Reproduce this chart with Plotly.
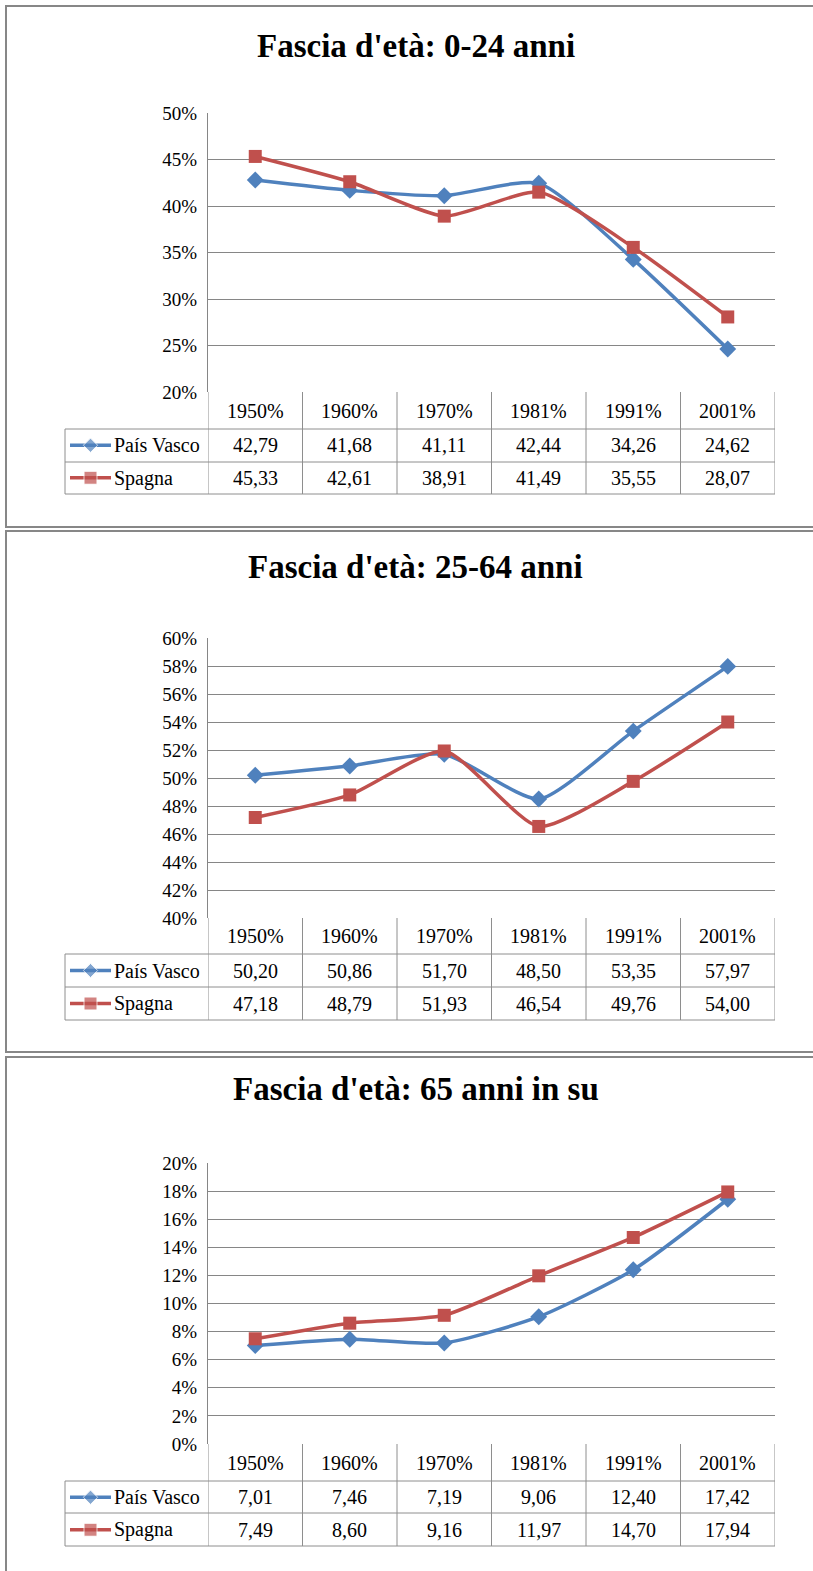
import plotly.graph_objects as go

# ---------------- data ----------------
years = ["1950%", "1960%", "1970%", "1981%", "1991%", "2001%"]
series_names = ["País Vasco", "Spagna"]
titles = ["Fascia d'età: 0-24 anni", "Fascia d'età: 25-64 anni", "Fascia d'età: 65 anni in su"]

pv_0_24 = [42.79, 41.68, 41.11, 42.44, 34.26, 24.62]
sp_0_24 = [45.33, 42.61, 38.91, 41.49, 35.55, 28.07]
pv_25_64 = [50.20, 50.86, 51.70, 48.50, 53.35, 57.97]
sp_25_64 = [47.18, 48.79, 51.93, 46.54, 49.76, 54.00]
pv_65 = [7.01, 7.46, 7.19, 9.06, 12.40, 17.42]
sp_65 = [7.49, 8.60, 9.16, 11.97, 14.70, 17.94]

y_ranges = [(20, 50, 5), (40, 60, 2), (0, 20, 2)]

# ---------------- layout helpers ----------------
W, H = 813, 1571
def fx(p):
    return p / W
def fy(p):
    return 1 - p / H

BLUE = "#4F81BD"
RED = "#C0504D"
GRID = "#868686"
TLINE = "#8E8E8E"
FONT = "Liberation Serif"

panels = [
    dict(box=(6, 527), plot=(113, 392), rows=(429, 462, 494), title=46),
    dict(box=(531, 1052), plot=(638, 918), rows=(954, 987, 1020), title=567),
    dict(box=(1057, 1580), plot=(1163, 1444), rows=(1481, 1513, 1546), title=1089),
]
PLOT_X0, PLOT_X1 = 208, 775
TABLE_X0 = 65

data_sets = [(pv_0_24, sp_0_24), (pv_25_64, sp_25_64), (pv_65, sp_65)]

fig = go.Figure()
shapes = []
annotations = []
layout_axes = {}

for i, (pan, (pv, sp), (ymin, ymax, dt), title) in enumerate(zip(panels, data_sets, y_ranges, titles)):
    n = i + 1
    xa = "x" if n == 1 else f"x{n}"
    ya = "y" if n == 1 else f"y{n}"
    xk = "xaxis" if n == 1 else f"xaxis{n}"
    yk = "yaxis" if n == 1 else f"yaxis{n}"
    top, bot = pan["plot"]
    r1, r2, r3 = pan["rows"]

    layout_axes[xk] = dict(domain=[fx(PLOT_X0), fx(PLOT_X1)], range=[-0.5, 5.5],
                           showgrid=False, zeroline=False, showticklabels=False,
                           showline=False, anchor=ya, fixedrange=True, automargin=False)
    layout_axes[yk] = dict(domain=[fy(bot), fy(top)], range=[ymin, ymax], dtick=dt,
                           tick0=ymin, ticksuffix="%", showgrid=True, gridcolor=GRID,
                           gridwidth=1, zeroline=False, showline=True, linecolor=GRID,
                           linewidth=1, ticks="", ticklabelstandoff=6,
                           tickfont=dict(family=FONT, size=19, color="black"),
                           anchor=xa, fixedrange=True, automargin=False)

    xs = list(range(len(years)))
    fig.add_trace(go.Scatter(x=xs, y=pv, xaxis=xa, yaxis=ya, mode="lines+markers",
                             line=dict(color=BLUE, width=3.5, shape="spline", smoothing=0.6),
                             marker=dict(symbol="diamond", size=13, color=BLUE),
                             showlegend=False, cliponaxis=False))
    fig.add_trace(go.Scatter(x=xs, y=sp, xaxis=xa, yaxis=ya, mode="lines+markers",
                             line=dict(color=RED, width=3.5, shape="spline", smoothing=0.6),
                             marker=dict(symbol="square", size=13, color=RED),
                             showlegend=False, cliponaxis=False))

    kx = f"x{n+3}"
    ky = f"y{n+3}"
    layout_axes[f"xaxis{n+3}"] = dict(domain=[fx(70), fx(111)], range=[0, 1], visible=False,
                                      anchor=ky, fixedrange=True, automargin=False)
    layout_axes[f"yaxis{n+3}"] = dict(domain=[fy(r3), fy(r1)], range=[0, 2], visible=False,
                                      anchor=kx, fixedrange=True, automargin=False)
    fig.add_trace(go.Scatter(x=[0, 0.5, 1], y=[1.5, 1.5, 1.5], xaxis=kx, yaxis=ky,
                             mode="lines+markers", line=dict(color=BLUE, width=3.5),
                             marker=dict(symbol="diamond", size=[0, 11, 0], color=BLUE),
                             showlegend=False, cliponaxis=False))
    fig.add_trace(go.Scatter(x=[0, 0.5, 1], y=[0.5, 0.5, 0.5], xaxis=kx, yaxis=ky,
                             mode="lines+markers", line=dict(color=RED, width=3.5),
                             marker=dict(symbol="square", size=[0, 13, 0], color=RED),
                             showlegend=False, cliponaxis=False))

    b0, b1 = pan["box"]
    shapes.append(dict(type="rect", xref="paper", yref="paper", x0=fx(6), x1=fx(840),
                       y0=fy(b1), y1=fy(b0), line=dict(color="#878787", width=2),
                       fillcolor="rgba(0,0,0,0)", layer="below"))

    for k in range(len(years) + 1):
        shapes.append(dict(type="line", xref=xa, yref="paper", x0=k - 0.5, x1=k - 0.5,
                           y0=fy(r3), y1=fy(bot), line=dict(color=TLINE, width=1)))
    shapes.append(dict(type="line", xref="paper", yref="paper", x0=fx(TABLE_X0), x1=fx(TABLE_X0),
                       y0=fy(r3), y1=fy(r1), line=dict(color=TLINE, width=1)))
    for yy in (r1, r2, r3):
        shapes.append(dict(type="line", xref="paper", yref="paper", x0=fx(TABLE_X0), x1=fx(PLOT_X1),
                           y0=fy(yy), y1=fy(yy), line=dict(color=TLINE, width=1)))

    annotations.append(dict(text=f"<b>{title}</b>", xref="paper", yref="paper", x=fx(416),
                            y=fy(pan["title"]), showarrow=False, xanchor="center", yanchor="middle",
                            font=dict(family=FONT, size=33, color="black")))
    for k, yr in enumerate(years):
        annotations.append(dict(text=yr, xref=xa, yref="paper", x=k, y=fy((bot + r1) / 2),
                                showarrow=False, xanchor="center", yanchor="middle",
                                font=dict(family=FONT, size=20, color="black")))
        for vals, (ra, rb) in ((pv, (r1, r2)), (sp, (r2, r3))):
            annotations.append(dict(text=f"{vals[k]:.2f}".replace(".", ","), xref=xa, yref="paper",
                                    x=k, y=fy((ra + rb) / 2), showarrow=False,
                                    xanchor="center", yanchor="middle",
                                    font=dict(family=FONT, size=20, color="black")))
    for name, (ra, rb) in zip(series_names, ((r1, r2), (r2, r3))):
        annotations.append(dict(text=name, xref="paper", yref="paper", x=fx(112),
                                y=fy((ra + rb) / 2), showarrow=False, xanchor="left",
                                yanchor="middle", font=dict(family=FONT, size=20, color="black")))

fig.update_layout(width=W, height=H,
                  margin=dict(l=0, r=0, t=0, b=0, pad=0, autoexpand=False),
                  paper_bgcolor="white", plot_bgcolor="white",
                  shapes=shapes, annotations=annotations, **layout_axes)

fig.write_html("out.html", config={"displayModeBar": False},
               post_script="document.body.style.margin='0';")
